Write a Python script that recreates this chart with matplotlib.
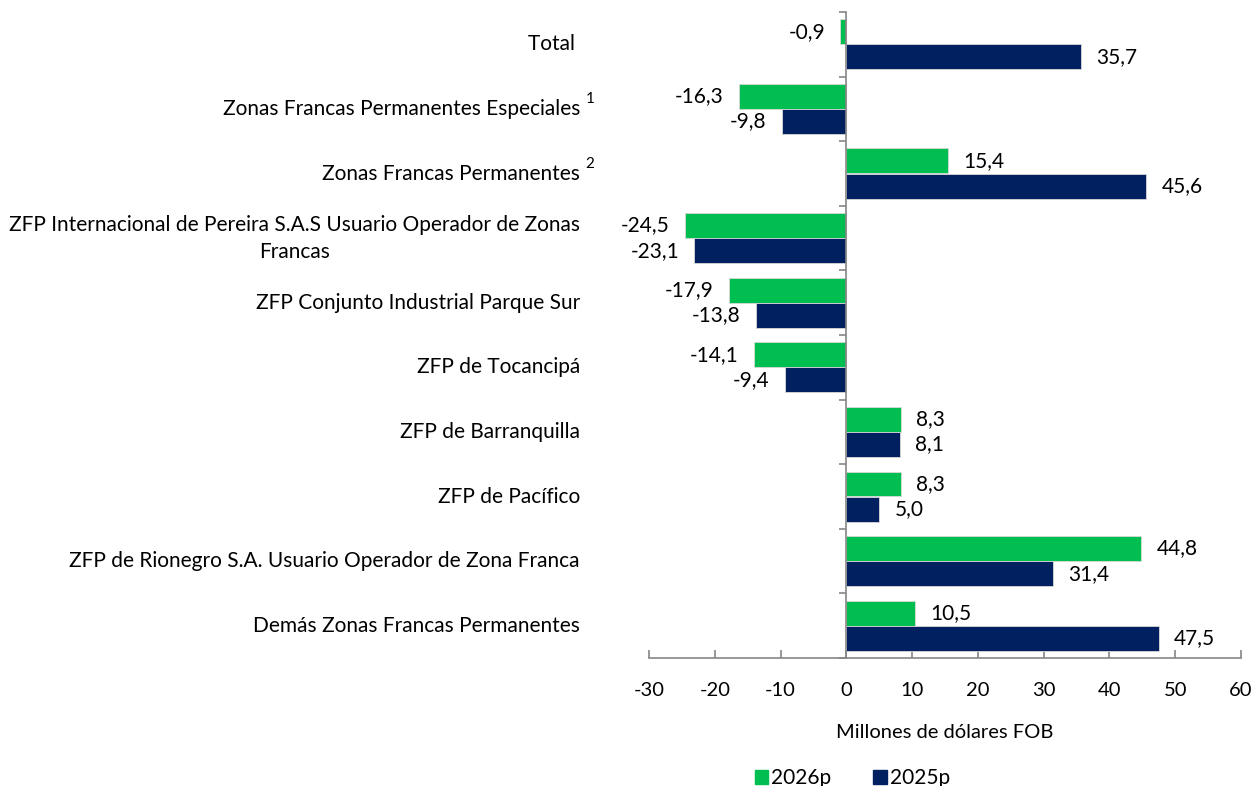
import matplotlib
matplotlib.use("Agg")
import matplotlib.pyplot as plt
import matplotlib.transforms as mtransforms
from matplotlib.patches import Patch
import numpy as np

plt.rcParams['font.family'] = ['Lato', 'DejaVu Sans']

# datos
categorias = ["Total ",
              "Zonas Francas Permanentes Especiales",
              "Zonas Francas Permanentes",
              "ZFP Internacional de Pereira S.A.S Usuario Operador de Zonas\nFrancas",
              "ZFP Conjunto Industrial Parque Sur",
              "ZFP de Tocancipá",
              "ZFP de Barranquilla",
              "ZFP de Pacífico",
              "ZFP de Rionegro S.A. Usuario Operador de Zona Franca",
              "Demás Zonas Francas Permanentes"]
notas = ["", "1", "2", "", "", "", "", "", "", ""]
v2026 = [-0.9, -16.3, 15.4, -24.5, -17.9, -14.1, 8.3, 8.3, 44.8, 10.5]
v2025 = [35.7, -9.8, 45.6, -23.1, -13.8, -9.4, 8.1, 5.0, 31.4, 47.5]
series = ["2026p", "2025p"]
colores = ["#00BE50", "#002060"]

fig = plt.figure(figsize=(12.57, 7.86), dpi=100)
ax = fig.add_axes([0.5163, 0.1628, 0.4710, 0.8219])

n = len(categorias)
centros = np.arange(n) + 0.5
alto = 0.385
for vals, col, off in [(v2026, colores[0], -0.195), (v2025, colores[1], 0.195)]:
    ax.barh(centros + off, vals, height=alto, color=col, edgecolor="#d9d9d9", linewidth=0.6, zorder=2)
    for y, v in zip(centros + off, vals):
        txt = f"{v:.1f}".replace(".", ",")
        if v >= 0:
            tr = mtransforms.offset_copy(ax.transData, fig=fig, x=11, y=0, units="points")
            ax.text(v, y, txt, transform=tr, ha="left", va="center", fontsize=15)
        else:
            tr = mtransforms.offset_copy(ax.transData, fig=fig, x=-11, y=0, units="points")
            ax.text(v, y, txt, transform=tr, ha="right", va="center", fontsize=15)

ax.set_xlim(-30, 60)
ax.set_ylim(n, 0)
ax.set_xticks(np.arange(-30, 61, 10))
ax.set_xticklabels([str(t) for t in range(-30, 61, 10)], fontsize=14.5)
ax.set_yticks(np.arange(0, n + 1))
ax.set_yticklabels([])

for s in ["top", "right"]:
    ax.spines[s].set_visible(False)
ax.spines["left"].set_position(("data", 0))
ax.spines["left"].set_color("#868686")
ax.spines["bottom"].set_color("#868686")
ax.spines["left"].set_linewidth(1.2)
ax.spines["bottom"].set_linewidth(1.2)
ax.tick_params(axis="x", direction="in", length=6, width=1.2, color="#868686", pad=17)
ax.tick_params(axis="y", direction="out", length=5, width=1.2, color="#868686")

# etiquetas de categorias
ytr = ax.get_yaxis_transform()
for y, lab, nota in zip(centros, categorias, notas):
    ax.text(-0.1166, y, lab, transform=ytr, ha="right", va="center", fontsize=15,
            multialignment="center", linespacing=1.45)
    if nota:
        tr = mtransforms.offset_copy(ytr, fig=fig, x=4, y=7, units="points")
        ax.text(-0.1166, y, nota, transform=tr, ha="left", va="center", fontsize=11)

ax.set_xlabel("Millones de dólares FOB", fontsize=14.5, labelpad=18)

handles = [Patch(color=c, label=s) for c, s in zip(colores, series)]
fig.legend(handles=handles, loc="lower center", bbox_to_anchor=(0.678, -0.027), ncol=2,
           frameon=False, fontsize=15, handlelength=0.65, handleheight=0.65,
           handletextpad=0.15, columnspacing=2.0)

fig.savefig("out.png", dpi=100)
